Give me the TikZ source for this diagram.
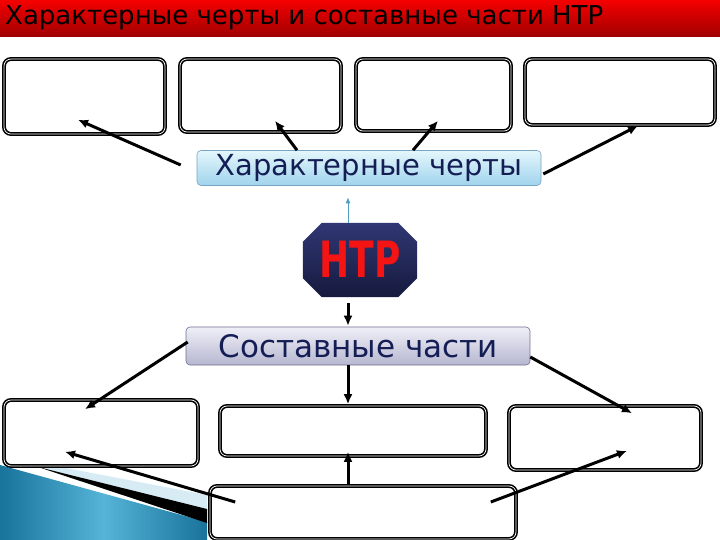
\documentclass[tikz,border=0pt]{standalone}
\usepackage{fontspec}
\setmainfont{DejaVu Sans}
\usetikzlibrary{arrows,arrows.meta}
\definecolor{titlered}{RGB}{245,0,0}
\definecolor{darkred}{RGB}{160,0,0}
\definecolor{navytext}{RGB}{20,30,85}
\definecolor{hxtop}{RGB}{228,246,252}
\definecolor{hxbot}{RGB}{160,212,236}
\definecolor{hxline}{RGB}{120,165,195}
\definecolor{sotop}{RGB}{240,240,248}
\definecolor{sobot}{RGB}{182,182,208}
\definecolor{soline}{RGB}{110,110,145}
\definecolor{octtop}{RGB}{48,55,115}
\definecolor{octbot}{RGB}{22,26,62}
\definecolor{ntpred}{RGB}{245,20,20}
\definecolor{tealarrow}{RGB}{80,160,190}
\definecolor{decodark}{RGB}{25,115,155}
\definecolor{decomid}{RGB}{85,180,215}
\definecolor{decolight}{RGB}{215,235,245}

\begin{document}
\begin{tikzpicture}[x=1pt,y=-1pt,
    emptybox/.style={draw=black, double=white, double distance=0.7pt, line width=1.6pt,
        rounded corners=7pt, inner sep=0pt, fill=white},
    arr/.style={-{Latex[length=10pt,width=9pt]}, line width=3pt},
]
    \useasboundingbox (0,0) rectangle (720,540);

    % Title bar
    \shade[top color=titlered, bottom color=darkred] (0,0) rectangle (720,37);
    \node (title) [anchor=west, inner sep=0pt, font=\fontsize{26}{30}\selectfont] at (5,18)
        {Характерные черты и составные части НТР};

    % Corner decoration
    \shade[left color=decodark, right color=decodark, middle color=decomid]
        (0,465) -- (207,522) -- (207,540) -- (0,540) -- cycle;
    \fill[decolight] (50,465) -- (207,495) -- (207,510) -- (38,467) -- cycle;
    \fill[black] (38,467) -- (207,509) -- (207,523) -- cycle;

    % Empty boxes, top row
    \node (t1) [emptybox, minimum width=161, minimum height=75] at (84.5,96.5) {};
    \node (t2) [emptybox, minimum width=161, minimum height=73] at (260.5,95.5) {};
    \node (t3) [emptybox, minimum width=155, minimum height=72] at (433.5,95) {};
    \node (t4) [emptybox, minimum width=190, minimum height=66] at (620,92) {};

    % Empty boxes, bottom rows
    \node (b1) [emptybox, minimum width=194, minimum height=66] at (101,433) {};
    \node (b2) [emptybox, minimum width=266, minimum height=50] at (353,431) {};
    \node (b3) [emptybox, minimum width=192, minimum height=64] at (605,438) {};
    \node (b4) [emptybox, minimum width=306, minimum height=53] at (363,512.5) {};

    % Middle column
    \node (hx) [draw=hxline, line width=0.6pt, rounded corners=4pt, top color=hxtop, bottom color=hxbot,
        minimum width=344, minimum height=35, inner sep=0pt, text=navytext,
        font=\fontsize{29}{30}\selectfont] at (369,168) {Характерные черты};

    % octagon
    \node (ntp) [minimum width=114, minimum height=74, inner sep=0pt] at (360,260) {};
    \shade[top color=octtop, bottom color=octbot]
        ([shift={(19,0)}]ntp.north west) -- ([shift={(-19,0)}]ntp.north east)
        -- ([shift={(0,19)}]ntp.north east) -- ([shift={(0,-19)}]ntp.south east)
        -- ([shift={(-19,0)}]ntp.south east) -- ([shift={(19,0)}]ntp.south west)
        -- ([shift={(0,-19)}]ntp.south west) -- ([shift={(0,19)}]ntp.north west) -- cycle;
    \node (ntptext) [text=ntpred, font=\fontsize{50}{50}\selectfont\bfseries] at (360,259)
        {\scalebox{0.72}[1]{НТР}};

    \node (so) [draw=soline, line width=0.6pt, rounded corners=4pt, top color=sotop, bottom color=sobot,
        minimum width=344, minimum height=38, inner sep=0pt, text=navytext,
        font=\fontsize{31}{32}\selectfont] at (358,346) {Составные части};

    % Connectors
    \draw[-{Latex[length=6pt,width=5pt]}, tealarrow, line width=0.9pt]
        ([shift={(-12,0)}]ntp.north) -- ([shift={(-21,11.5)}]hx.south);
    \draw[arr] ([shift={(-12,6)}]ntp.south) -- ([shift={(-10,-1)}]so.north);

    \draw[arr] ([shift={(-16,-3)}]hx.west) -- ([shift={(-6.5,-15)}]t1.south);
    \draw[arr] ([shift={(-72,0)}]hx.north) -- ([shift={(14.5,-12)}]t2.south);
    \draw[arr] ([shift={(44,0)}]hx.north) -- ([shift={(4.5,-11)}]t3.south);
    \draw[arr] ([shift={(2,6)}]hx.east) -- ([shift={(18,0)}]t4.south);

    \draw[arr] ([shift={(2,-4)}]so.west) -- ([shift={(-16,10)}]b1.north);
    \draw[arr] ([shift={(-10,0)}]so.south) -- ([shift={(-5,-1)}]b2.north);
    \draw[arr] ([shift={(0,11)}]so.east) -- ([shift={(27,8)}]b3.north);

    \draw[arr] ([shift={(26,-10.5)}]b4.west) -- ([shift={(-36,-15)}]b1.south);
    \draw[arr] ([shift={(-15,0)}]b4.north) -- ([shift={(-5,-5)}]b2.south);
    \draw[arr] ([shift={(-26,-10.5)}]b4.east) -- ([shift={(22,-20)}]b3.south);
\end{tikzpicture}
\end{document}
